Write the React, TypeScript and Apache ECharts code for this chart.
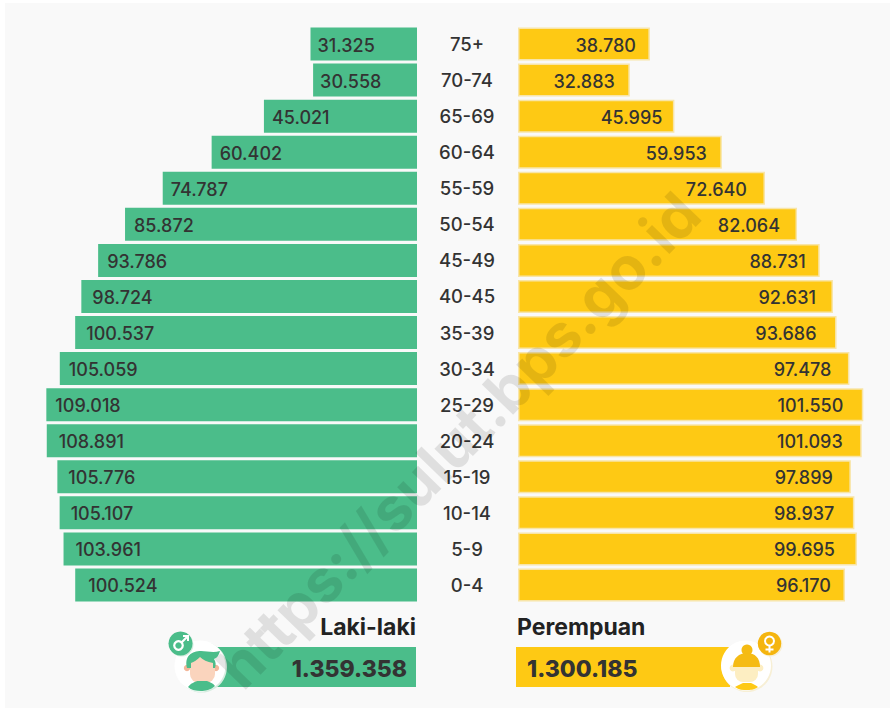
import React, { useEffect, useRef } from "react";
import * as echarts from "echarts";

const ageGroups = ["75+", "70-74", "65-69", "60-64", "55-59", "50-54", "45-49", "40-45", "35-39", "30-34", "25-29", "20-24", "15-19", "10-14", "5-9", "0-4"];
const maleValues = [31325, 30558, 45021, 60402, 74787, 85872, 93786, 98724, 100537, 105059, 109018, 108891, 105776, 105107, 103961, 100524];
const femaleValues = [38780, 32883, 45995, 59953, 72640, 82064, 88731, 92631, 93686, 97478, 101550, 101093, 97899, 98937, 99695, 96170];
const maleTotal = 1359358;
const femaleTotal = 1300185;
const maleTitle = "Laki-laki";
const femaleTitle = "Perempuan";
const watermark = "https://sulut.bps.go.id";

const maleLabelInset = [7, 7, 8, 8, 8, 9, 9, 11, 11, 9, 9, 12, 11, 11, 12, 13];
const femaleLabelInset = [14, 15, 12, 15, 18, 17, 14, 17, 20, 18, 20, 19, 18, 20, 22, 14];

const fmt = (v: number) => String(v).replace(/\B(?=(\d{3})+(?!\d))/g, ".");

const FONT = "Inter, 'Open Sans', sans-serif";
const GREEN = "#4bbd8a";
const YELLOW = "#fec914";
const INK = "#333333";

echarts.graphic.registerShape("maleHair", echarts.graphic.extendPath(
  "M187 668 C184 656 192 651 201 651 C207 651 213 653 220 651 C219 655 217 658 214 659 C216 662 216 665 215 668 L213 668 L213 663 C207 662 203 660 200 657 C197 660 194 662 191 663 L191 668 Z", {}));
echarts.graphic.registerShape("maleBody", echarts.graphic.extendPath(
  "M188 687 C191 683 195 682 197 681 L207 681 C209 682 213 683 215 686 C211 690 205 691 201 691 C196 691 191 690 188 687 Z", {}));
echarts.graphic.registerShape("femaleHair", echarts.graphic.extendPath(
  "M733 667 C733 658 739 653 747 653 C755 653 760 658 760 667 Z", {}));
echarts.graphic.registerShape("femaleBody", echarts.graphic.extendPath(
  "M735 687 C738 685 741 684 743 683 L751 683 C753 684 756 685 758 687 C754 690 750 690 747 690 C743 690 739 690 735 687 Z", {}));

function genderIcons() {
  return [
    // male avatar
    { type: "circle", shape: { cx: 201.5, cy: 667, r: 25.5 }, style: { fill: "#d5ecdf" }, z: 10 },
    { type: "circle", shape: { cx: 200, cy: 666, r: 25.5 }, style: { fill: "#ffffff" }, z: 11 },
    { type: "circle", shape: { cx: 187, cy: 668, r: 3.2 }, style: { fill: "#f3b79a" }, z: 12 },
    { type: "circle", shape: { cx: 216, cy: 668, r: 3.2 }, style: { fill: "#f3b79a" }, z: 12 },
    { type: "rect", shape: { x: 190, y: 657, width: 25, height: 26, r: 9 }, style: { fill: "#fad4bd" }, z: 12 },
    { type: "maleBody", x: 0, y: 0, style: { fill: GREEN }, z: 13 },
    { type: "maleHair", x: 0, y: 0, style: { fill: GREEN }, z: 13 },
    { type: "circle", shape: { cx: 181.5, cy: 644.5, r: 12 }, style: { fill: "#d5ecdf" }, z: 14 },
    { type: "circle", shape: { cx: 180.5, cy: 643.5, r: 12 }, style: { fill: GREEN }, z: 15 },
    { type: "circle", shape: { cx: 178.5, cy: 645.5, r: 4.3 }, style: { fill: "none", stroke: "#fff", lineWidth: 2.2 }, z: 16 },
    { type: "line", shape: { x1: 181.5, y1: 642.5, x2: 188, y2: 636 }, style: { stroke: "#fff", lineWidth: 2.2 }, z: 16 },
    { type: "polyline", shape: { points: [[183, 636], [188, 636], [188, 641]] }, style: { fill: "none", stroke: "#fff", lineWidth: 2 }, z: 16 },
    // female avatar
    { type: "circle", shape: { cx: 747, cy: 666.5, r: 25.5 }, style: { fill: "#f7efd5" }, z: 10 },
    { type: "circle", shape: { cx: 746, cy: 665.5, r: 25 }, style: { fill: "#ffffff" }, z: 11 },
    { type: "circle", shape: { cx: 747, cy: 650, r: 5.5 }, style: { fill: "#f5bb14" }, z: 12 },
    { type: "circle", shape: { cx: 733, cy: 668, r: 3.4 }, style: { fill: "#fdeec2" }, z: 12 },
    { type: "circle", shape: { cx: 760, cy: 668, r: 3.4 }, style: { fill: "#fdeec2" }, z: 12 },
    { type: "rect", shape: { x: 735, y: 660, width: 23, height: 22, r: 8 }, style: { fill: "#fdeec2" }, z: 12 },
    { type: "femaleHair", x: 0, y: 0, style: { fill: "#f5bb14" }, z: 13 },
    { type: "femaleBody", x: 0, y: 0, style: { fill: YELLOW }, z: 13 },
    { type: "circle", shape: { cx: 770.5, cy: 644.5, r: 12 }, style: { fill: "#f7efd5" }, z: 14 },
    { type: "circle", shape: { cx: 769.5, cy: 643.5, r: 11.7 }, style: { fill: "#f5b50f" }, z: 15 },
    { type: "circle", shape: { cx: 769.5, cy: 641, r: 4.5 }, style: { fill: "none", stroke: "#fff", lineWidth: 2 }, z: 16 },
    { type: "line", shape: { x1: 769.5, y1: 646, x2: 769.5, y2: 652.5 }, style: { stroke: "#fff", lineWidth: 2 }, z: 16 },
    { type: "line", shape: { x1: 765.5, y1: 649.5, x2: 773.5, y2: 649.5 }, style: { stroke: "#fff", lineWidth: 2 }, z: 16 },
  ];
}

export default function App() {
  const ref = useRef<HTMLDivElement>(null);
  useEffect(() => {
    document.body.style.margin = "0";
    const chart = echarts.init(ref.current!, undefined, { renderer: "svg" });
    chart.setOption({
      animation: false,
      backgroundColor: "#ffffff",
      grid: [
        { left: 43, width: 374, top: 26, height: 577 },
        { left: 518, width: 374, top: 26, height: 577 },
      ],
      xAxis: [
        { type: "value", gridIndex: 0, inverse: true, min: 0, max: 110000, show: false },
        { type: "value", gridIndex: 1, min: 0, max: 110000, show: false },
      ],
      yAxis: [
        {
          type: "category", gridIndex: 0, inverse: true, position: "right", data: ageGroups,
          axisLine: { show: false }, axisTick: { show: false },
          axisLabel: { color: INK, fontFamily: FONT, fontSize: 18.5, fontWeight: 500, align: "center", margin: 50, padding: [2, 0, 0, 0] },
        },
        {
          type: "category", gridIndex: 1, inverse: true, data: ageGroups, show: false,
        },
      ],
      series: [
        {
          type: "bar", xAxisIndex: 0, yAxisIndex: 0, barWidth: 33, z: 2,
          itemStyle: { color: GREEN },
          data: maleValues.map((value, i) => ({
            value,
            label: {
              show: true, position: "insideLeft", distance: maleLabelInset[i], offset: [0, 1], formatter: fmt(value),
              color: INK, fontFamily: FONT, fontSize: 18, fontWeight: 500,
            },
          })),
        },
        {
          type: "bar", xAxisIndex: 1, yAxisIndex: 1, barWidth: 33, z: 2,
          itemStyle: { color: YELLOW, borderColor: "#f8e5a8", borderWidth: 1.5 },
          data: femaleValues.map((value, i) => ({
            value,
            label: {
              show: true, position: "insideRight", distance: femaleLabelInset[i], offset: [0, 1], formatter: fmt(value),
              color: INK, fontFamily: FONT, fontSize: 18, fontWeight: 500,
            },
          })),
        },
      ],
      graphic: [
        { type: "rect", shape: { x: 5, y: 3, width: 885, height: 705 }, style: { fill: "#f9f9f9" }, z: -1, silent: true },
        { type: "rect", shape: { x: 215, y: 647, width: 201, height: 40 }, style: { fill: GREEN }, z: 5 },
        { type: "rect", shape: { x: 516, y: 647, width: 214, height: 40 }, style: { fill: YELLOW }, z: 5 },
        { type: "text", x: 416, y: 627, style: { text: maleTitle, fill: "#222222", font: `700 23px ${FONT}`, textAlign: "right", textVerticalAlign: "middle" }, z: 6 },
        { type: "text", x: 517, y: 627, style: { text: femaleTitle, fill: "#222222", font: `700 23px ${FONT}`, textAlign: "left", textVerticalAlign: "middle" }, z: 6 },
        { type: "text", x: 407, y: 669, style: { text: fmt(maleTotal), fill: INK, font: `800 23px ${FONT}`, textAlign: "right", textVerticalAlign: "middle" }, z: 6 },
        { type: "text", x: 527, y: 669, style: { text: fmt(femaleTotal), fill: INK, font: `800 23px ${FONT}`, textAlign: "left", textVerticalAlign: "middle" }, z: 6 },
        ...genderIcons(),
        {
          type: "text", x: 458, y: 440, rotation: 0.8,
          style: { text: watermark, fill: "rgba(0,0,0,0.1)", font: `700 60px ${FONT}`, textAlign: "center", textVerticalAlign: "middle" },
          z: 50, silent: true,
        },
      ],
    });
    return () => chart.dispose();
  }, []);
  return <div ref={ref} style={{ width: 895, height: 710 }} />;
}
